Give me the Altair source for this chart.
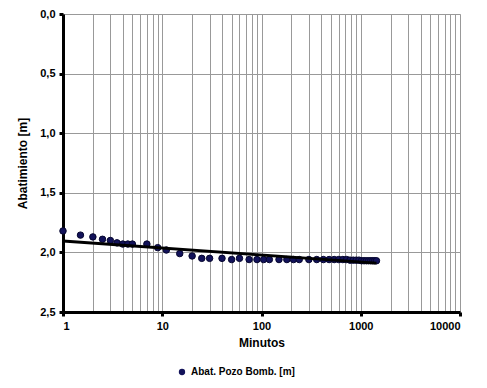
import altair as alt
import pandas as pd

minutes = [1, 1.5, 2, 2.5, 3, 3.5, 4, 4.5, 5, 7, 9, 11, 15, 20, 25, 30, 40, 50, 60, 75,
           90, 105, 120, 150, 180, 210, 240, 300, 360, 420, 480, 540, 600, 660, 720,
           780, 840, 900, 960, 1020, 1080, 1140, 1200, 1260, 1320, 1380, 1440]
drawdown = [1.82, 1.855, 1.87, 1.89, 1.90, 1.92, 1.93, 1.93, 1.93, 1.93, 1.96, 1.98,
            2.01, 2.03, 2.05, 2.05, 2.05, 2.06, 2.05, 2.06,
            2.06, 2.06, 2.06, 2.06, 2.06, 2.06, 2.06, 2.06, 2.06, 2.06, 2.06, 2.06,
            2.06, 2.06, 2.06, 2.065, 2.065, 2.065, 2.065, 2.07, 2.07, 2.07, 2.07,
            2.07, 2.07, 2.07, 2.07]
trend_t = [1, 1440]
trend_y = [1.905, 2.09]

x_grid = [m * 10 ** e for e in range(4) for m in range(1, 10)] + [10000]
decades = [1, 10, 100, 1000, 10000]
y_ticks = [0, 0.5, 1.0, 1.5, 2.0, 2.5]

pts = pd.DataFrame({"t": minutes, "s": drawdown, "serie": "Abat. Pozo Bomb. [m]"})
trend = pd.DataFrame({"t": trend_t, "s": trend_y})

font = "Liberation Sans"

xscale = alt.Scale(type="log", domain=[1, 10000], nice=False)
yscale = alt.Scale(domain=[0, 2.5], reverse=True, nice=False)

xaxis = alt.Axis(
    values=x_grid, title="Minutos", grid=True, gridColor="#999999", gridWidth=1,
    labelExpr="indexof([1,10,100,1000,10000], datum.value) >= 0 ? format(datum.value, 'd') : ''",
    labelOverlap=False, labelFont=font, labelFontWeight="bold", labelFontSize=11,
    labelColor="black", labelPadding=4,
    tickColor={"condition": {"test": "indexof([1,10,100,1000,10000], datum.value) >= 0", "value": "black"}, "value": "transparent"},
    tickSize=4, tickWidth=3,
    domainColor="black", domainWidth=3,
    titleFont=font, titleFontWeight="bold", titleFontSize=12, titleColor="black", titlePadding=6,
)
yaxis = alt.Axis(
    values=y_ticks, title="Abatimiento [m]", grid=True, gridColor="#999999", gridWidth=1,
    labelExpr="replace(format(datum.value, '.1f'), '.', ',')",
    labelFont=font, labelFontWeight="bold", labelFontSize=11, labelColor="black",
    labelPadding=4, tickColor="black", tickSize=4, tickWidth=3,
    domainColor="black", domainWidth=3,
    titleFont=font, titleFontWeight="bold", titleFontSize=12, titleColor="black", titlePadding=10,
)

points = alt.Chart(pts).mark_circle(size=42, opacity=1, stroke="#05052e", strokeWidth=1).encode(
    x=alt.X("t:Q", scale=xscale, axis=xaxis),
    y=alt.Y("s:Q", scale=yscale, axis=yaxis),
    color=alt.Color("serie:N", scale=alt.Scale(range=["#12125a"]),
                    legend=alt.Legend(title=None, orient="none", legendX=114, legendY=353,
                                      labelFont=font, labelFontWeight="bold", labelFontSize=10,
                                      labelColor="black", symbolSize=40, symbolType="circle",
                                      symbolStrokeWidth=0, padding=0)),
)

line = alt.Chart(trend).mark_line(color="black", strokeWidth=3).encode(
    x=alt.X("t:Q", scale=xscale),
    y=alt.Y("s:Q", scale=yscale),
)

chart = alt.layer(points, line).properties(
    width=397, height=298,
    autosize=alt.AutoSizeParams(type="none"),
    padding={"left": 55, "top": 6, "right": 14, "bottom": 68},
).configure_view(stroke="black", strokeWidth=3).configure(background="white")

chart.save("out.html", embed_options={"renderer": "svg", "actions": False})
